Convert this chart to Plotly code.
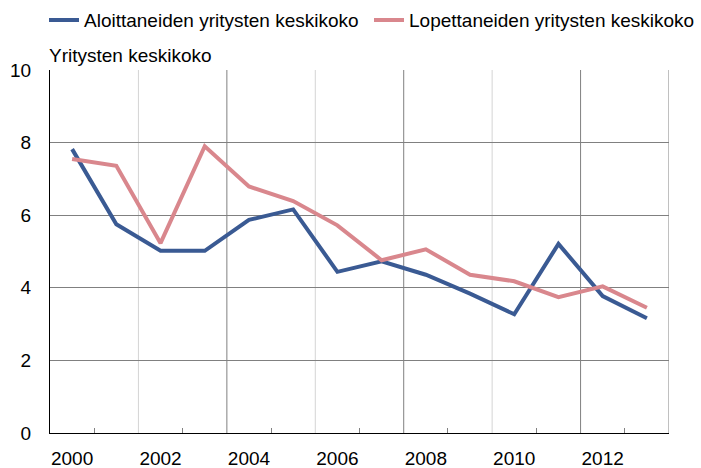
import plotly.graph_objects as go

FONT = "Liberation Sans, Arial, sans-serif"
BLUE = "#3a5a93"
PINK = "#d9878d"
GRID_DARK = "#808080"
GRID_LIGHT = "#d4d4d4"

vuodet = list(range(2000, 2014))
aloittaneet = [7.82, 5.75, 5.02, 5.02, 5.87, 6.16, 4.44, 4.73, 4.36, 3.84, 3.27, 5.21, 3.77, 3.16]
lopettaneet = [7.55, 7.36, 5.23, 7.90, 6.79, 6.39, 5.72, 4.76, 5.06, 4.36, 4.18, 3.74, 4.04, 3.45]
tick_vuodet = [2000, 2002, 2004, 2006, 2008, 2010, 2012]

fig = go.Figure()
fig.add_trace(go.Scatter(x=vuodet, y=aloittaneet, mode="lines",
                         name="Aloittaneiden yritysten keskikoko",
                         line=dict(color=BLUE, width=4), legend="legend"))
fig.add_trace(go.Scatter(x=vuodet, y=lopettaneet, mode="lines",
                         name="Lopettaneiden yritysten keskikoko",
                         line=dict(color=PINK, width=4), legend="legend2"))

# pystyviivat vuosiparien välissä, vuorotellen vaalea ja tumma
for i, xv in enumerate([2001.5, 2003.5, 2005.5, 2007.5, 2009.5, 2011.5, 2013.5]):
    col = GRID_LIGHT if i % 2 == 0 and xv != 2013.5 else GRID_DARK
    fig.add_shape(type="line", xref="x", yref="paper", x0=xv, x1=xv, y0=0, y1=1,
                  line=dict(color=col, width=1), layer="below")

leg = dict(orientation="h", xref="container", yref="container",
           xanchor="left", y=0.957, yanchor="middle",
           font=dict(size=19), itemwidth=30, bgcolor="rgba(0,0,0,0)")

fig.update_layout(
    width=701, height=468,
    template="plotly_white",
    plot_bgcolor="white", paper_bgcolor="white",
    margin=dict(l=50, r=32, t=70, b=35, autoexpand=False),
    font=dict(family=FONT, size=19, color="#000000"),
    showlegend=True,
    legend=dict(leg, x=44 / 701),
    legend2=dict(leg, x=369 / 701),
    annotations=[dict(text="Yritysten keskikoko", xref="paper", yref="paper",
                      x=-0.005, y=1.0, xanchor="left", yanchor="bottom", yshift=2,
                      showarrow=False, font=dict(size=19))],
)
fig.update_xaxes(range=[1999.5, 2013.5], tickvals=tick_vuodet, ticks="",
                 showgrid=False, zeroline=False, showline=True, linecolor="#000000",
                 linewidth=1, ticklabelstandoff=8,
                 minor=dict(tickvals=[2000.5, 2002.5, 2004.5, 2006.5, 2008.5, 2010.5, 2012.5],
                            ticks="inside", ticklen=5, tickcolor="#808080", showgrid=False))
fig.update_yaxes(range=[0, 10], dtick=2, ticks="", showgrid=True, gridcolor=GRID_DARK,
                 gridwidth=1, zeroline=False, showline=True, linecolor="#000000",
                 linewidth=1, ticklabelstandoff=14)

fig.write_html("out.html", config={"displayModeBar": False},
               post_script="document.body.style.margin='0';")
